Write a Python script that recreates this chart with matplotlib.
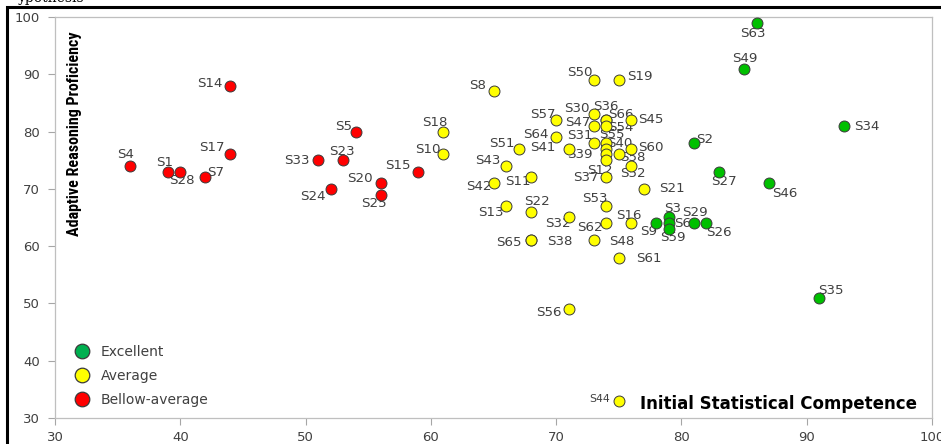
import matplotlib
matplotlib.use('Agg')
import matplotlib.pyplot as plt
from matplotlib import font_manager
from matplotlib.lines import Line2D
from matplotlib.patches import Rectangle

# Data: (Initial Statistical Competence, Adaptive Reasoning Proficiency)
exc_names = ['S63', 'S49', 'S34', 'S2', 'S27', 'S46', 'S35', 'S3', 'S9', 'S6', 'S59', 'S29', 'S26']
exc_x = [86, 85, 93, 81, 83, 87, 91, 79, 78, 79, 79, 81, 82]
exc_y = [99, 91, 81, 78, 73, 71, 51, 65, 64, 64, 63, 64, 64]

avg_names = ['S8', 'S50', 'S19', 'S30', 'S36', 'S66', 'S45', 'S57', 'S47', 'S54',
             'S64', 'S31', 'S55', 'S40', 'S60', 'S51', 'S41', 'S39', 'S12', 'S58',
             'S52', 'S43', 'S37', 'S11', 'S42', 'S21', 'S18', 'S10', 'S13', 'S22',
             'S53', 'S32', 'S62', 'S16', 'S65', 'S38', 'S48', 'S61', 'S56', 'S44']
avg_x = [65, 73, 75, 73, 74, 74, 76, 70, 73, 74,
         70, 73, 74, 74, 76, 67, 71, 74, 74, 75,
         76, 66, 74, 68, 65, 77, 61, 61, 66, 68,
         74, 71, 74, 76, 68, 68, 73, 75, 71, 75]
avg_y = [87, 89, 89, 83, 82, 82, 82, 82, 81, 81,
         79, 78, 78, 77, 77, 77, 77, 76, 75, 76,
         74, 74, 72, 72, 71, 70, 80, 76, 67, 66,
         67, 65, 64, 64, 61, 61, 61, 58, 49, 33]

low_names = ['S4', 'S1', 'S28', 'S7', 'S14', 'S17', 'S5', 'S33', 'S23', 'S24', 'S20', 'S25', 'S15']
low_x = [36, 39, 40, 42, 44, 44, 54, 51, 53, 52, 56, 56, 59]
low_y = [74, 73, 73, 72, 88, 76, 80, 75, 75, 70, 71, 69, 73]

groups = ['Excellent', 'Average', 'Bellow-average']
x_ticks = [30, 40, 50, 60, 70, 80, 90, 100]
y_ticks = [30, 40, 50, 60, 70, 80, 90, 100]

# label offsets in pixels (dx right, dy up)
LABEL_OFFSETS = {
    'S4': (-5, 11), 'S1': (-3, 9), 'S28': (2, -9), 'S7': (10, 5), 'S14': (-21, 2),
    'S17': (-19, 7), 'S5': (-12, 5), 'S33': (-21, 0), 'S23': (-1, 9), 'S24': (-18, -8),
    'S20': (-21, 5), 'S25': (-7, -9), 'S15': (-20, 6),
    'S63': (-4, -11), 'S49': (1, 10), 'S34': (23, -1), 'S2': (11, 4), 'S27': (5, -10),
    'S46': (16, -10), 'S35': (12, 7), 'S3': (4, 9), 'S9': (-8, -8), 'S6': (14, 0),
    'S59': (4, -9), 'S29': (1, 11), 'S26': (12, -9),
    'S8': (-16, 6), 'S50': (-14, 8), 'S19': (21, 4), 'S30': (-17, 6), 'S36': (0, 14),
    'S66': (15, 6), 'S45': (19, 1), 'S57': (-13, 6), 'S47': (-16, 3), 'S54': (15, -2),
    'S64': (-20, 3), 'S31': (-14, 8), 'S55': (6, 9), 'S40': (14, 5), 'S60': (20, 1),
    'S51': (-17, 5), 'S41': (-26, 1), 'S39': (-26, 0), 'S12': (-6, -10), 'S58': (14, -3),
    'S52': (2, -8), 'S43': (-18, 5), 'S37': (-20, 0), 'S11': (-13, -4), 'S42': (-15, -3),
    'S21': (28, 0), 'S18': (-9, 9), 'S10': (-16, 5), 'S13': (-15, -6), 'S22': (6, 10),
    'S53': (-11, 8), 'S32': (-11, -6), 'S62': (-16, -4), 'S16': (-2, 8), 'S65': (-22, -2),
    'S38': (29, -1), 'S48': (28, -1), 'S61': (30, -1), 'S56': (-20, -3), 'S44': (-19, 2),
}

TEXT = '#404040'
EDGE = '#3A3A3A'
C_EXC = '#00C000'
C_AVG = '#FFFF00'
C_LOW = '#FF0000'

# pick a narrow bold face for the vertical axis title if one is installed
_fonts = font_manager.fontManager.ttflist
_names = {f.name for f in _fonts}
ylab_font = None
for cand in ['Liberation Sans Narrow', 'Roboto Condensed', 'Open Sans Condensed',
             'Noto Sans Condensed', 'DejaVu Sans Condensed']:
    if cand in _names:
        ylab_font = dict(family=cand, fontsize=11.5)
        break
if ylab_font is None:
    if any(f.name == 'DejaVu Sans' and f.stretch == 'condensed' for f in _fonts):
        ylab_font = dict(family='DejaVu Sans', fontstretch='condensed', fontsize=9.5)
    else:
        ylab_font = dict(family='Liberation Sans', fontsize=10)

fig = plt.figure(figsize=(9.41, 4.44), dpi=100)
fig.patch.set_facecolor('white')
ax = fig.add_axes([55 / 941, 1 - 418 / 444, 877 / 941, 401 / 444])

for xs, ys, col in [(exc_x, exc_y, C_EXC), (avg_x, avg_y, C_AVG), (low_x, low_y, C_LOW)]:
    ax.scatter(xs, ys, s=62, c=col, edgecolors=EDGE, linewidths=0.7, zorder=3)

for names, xs, ys in [(exc_names, exc_x, exc_y), (avg_names, avg_x, avg_y), (low_names, low_x, low_y)]:
    for n, xv, yv in zip(names, xs, ys):
        dx, dy = LABEL_OFFSETS.get(n, (10, 0))
        fs = 7.8 if n == 'S44' else 9.6
        ax.annotate(n, (xv, yv), xytext=(dx, dy), textcoords='offset pixels',
                    ha='center', va='center', fontsize=fs, color=TEXT, zorder=2)

ax.set_xlim(30, 100)
ax.set_ylim(30, 100)
ax.set_xticks(x_ticks)
ax.set_yticks(y_ticks)
ax.tick_params(axis='both', direction='out', length=5, width=0.8, color='#A6A6A6',
               labelsize=9.5, labelcolor=TEXT)
ax.tick_params(axis='y', pad=6)
ax.tick_params(axis='x', pad=4)
for sp in ax.spines.values():
    sp.set_color('#BFBFBF')
    sp.set_linewidth(0.9)

# axis titles placed inside the plot area
ax.text((778 - 55) / 877, 1 - (404 - 17) / 401, 'Initial Statistical Competence',
        transform=ax.transAxes, ha='center', va='center', fontsize=12,
        fontweight='bold', color='black')
ax.text((75 - 55) / 877, 1 - (134 - 17) / 401, 'Adaptive Reasoning Proficiency',
        transform=ax.transAxes, ha='center', va='center', rotation=90,
        fontweight='bold', color='black', **ylab_font)

handles = [Line2D([], [], marker='o', linestyle='none', markersize=10.5,
                  markerfacecolor=c, markeredgecolor=EDGE, markeredgewidth=0.9)
           for c in ['#00B050', C_AVG, C_LOW]]
leg = ax.legend(handles, groups, loc='upper left',
                bbox_to_anchor=((68 - 55) / 877, 1 - (339 - 17) / 401),
                frameon=False, fontsize=10, labelspacing=0.72, handletextpad=0.75,
                handlelength=1.2, borderaxespad=0)
for t in leg.get_texts():
    t.set_color(TEXT)

# outer black frame and clipped caption text from the source page
fig.patches.append(Rectangle((7 / 941, -0.2), 1.2, 1 - 7 / 444 + 0.2, transform=fig.transFigure,
                             fill=False, edgecolor='black', linewidth=2.2, zorder=10))
fig.text(18 / 941, 1.005, 'ypothesis', ha='left', va='center', fontsize=10,
         family='serif', color='black')

fig.savefig('out.png', dpi=100)
